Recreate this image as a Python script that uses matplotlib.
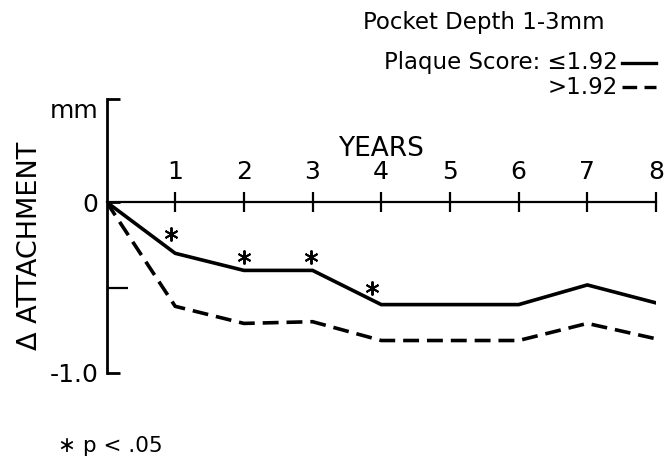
import matplotlib
matplotlib.use("Agg")
import matplotlib.pyplot as plt
from matplotlib.lines import Line2D

# 資料（從圖上讀出來的）
years = [0, 1, 2, 3, 4, 5, 6, 7, 8]
low_plaque = [0, -0.30, -0.40, -0.40, -0.60, -0.60, -0.60, -0.485, -0.59]    # <= 1.92
high_plaque = [0, -0.61, -0.71, -0.70, -0.81, -0.81, -0.81, -0.71, -0.80]    # > 1.92
sig_years = [0.94, 2.0, 2.97, 3.87]
sig_vals = [-0.19, -0.32, -0.32, -0.50]
year_ticks = [1, 2, 3, 4, 5, 6, 7, 8]

W, H = 671, 457
fig = plt.figure(figsize=(W / 100, H / 100), dpi=100)
ax = fig.add_axes([106.5 / W, (H - 373) / H, (656 - 106.5) / W, (373 - 99.4) / H])
ax.set_xlim(0, 8)
ax.set_ylim(-1.0, 0.6)

ax.plot(years, low_plaque, color="black", lw=2.6, solid_joinstyle="miter")
ax.plot(years, high_plaque, color="black", lw=2.6, dashes=(4.4, 2.2))
ax.plot(sig_years, sig_vals, ls="none", marker=(6, 2, 0), color="black",
        markersize=10, markeredgewidth=1.4)

# 軸
for s in ["bottom", "right"]:
    ax.spines[s].set_visible(False)
ax.spines["top"].set_position(("data", 0))
ax.spines["top"].set_linewidth(1.6)
ax.spines["left"].set_linewidth(2.0)
ax.xaxis.tick_top()
ax.set_xticks(year_ticks)
ax.tick_params(axis="x", direction="inout", length=14, width=1.6, pad=6, labelsize=18)
ax.xaxis.set_label_position("top")
ax.set_xlabel("YEARS", fontsize=19, labelpad=3)

ax.set_yticks([0.6, 0, -1.0])
ax.set_yticklabels(["mm", "0", "-1.0"])
ax.set_yticks([-0.5], minor=True)
ax.tick_params(axis="y", which="major", direction="in", length=9, width=2.0, pad=6, labelsize=18)
ax.tick_params(axis="y", which="minor", direction="in", length=15, width=1.6)
ax.patch.set_visible(False)
# mm 標籤稍微往下
ax.get_yticklabels()[0].set_va("top")

fig.text(30 / W, 1 - 246 / H, "Δ ATTACHMENT", rotation=90, ha="center", va="center", fontsize=19.5)

# 圖例
fig.text(363 / W, 1 - 22 / H, "Pocket Depth 1-3mm", ha="left", va="center", fontsize=16.5)
fig.text(618 / W, 1 - 63 / H, "Plaque Score: ≤1.92", ha="right", va="center", fontsize=16.5)
fig.text(618 / W, 1 - 87 / H, ">1.92", ha="right", va="center", fontsize=16.5)
fig.add_artist(Line2D([622 / W, 656 / W], [1 - 63 / H, 1 - 63 / H], color="black", lw=2.4,
                      transform=fig.transFigure))
fig.add_artist(Line2D([622 / W, 656 / W], [1 - 87 / H, 1 - 87 / H], color="black", lw=2.4,
                      dashes=(4.4, 2.2), transform=fig.transFigure))

fig.text(58 / W, 1 - 446 / H, "∗ p < .05", ha="left", va="center", fontsize=15.5)

fig.savefig("out.png", dpi=100)
